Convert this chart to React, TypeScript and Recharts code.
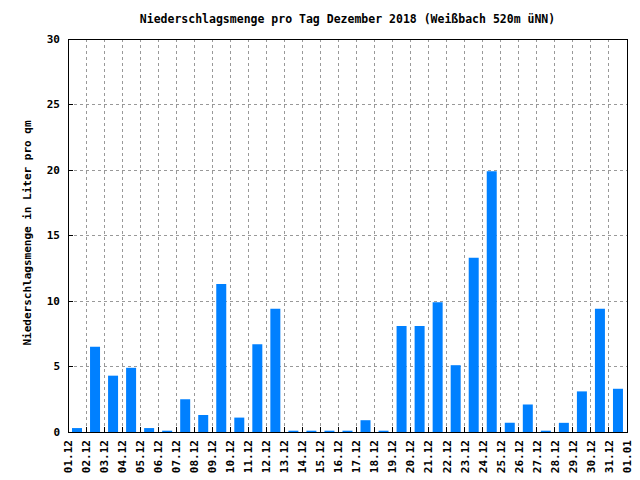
import React from "react";
import { BarChart, Bar, XAxis, YAxis, CartesianGrid, ReferenceArea } from "recharts";

// Niederschlag Dezember 2018, Liter pro qm
const days = [
  "01.12", "02.12", "03.12", "04.12", "05.12", "06.12", "07.12", "08.12", "09.12", "10.12",
  "11.12", "12.12", "13.12", "14.12", "15.12", "16.12", "17.12", "18.12", "19.12", "20.12",
  "21.12", "22.12", "23.12", "24.12", "25.12", "26.12", "27.12", "28.12", "29.12", "30.12", "31.12",
];
const tickLabels = [...days, "01.01"];
const rain = [
  0.3, 6.5, 4.3, 4.9, 0.3, 0.1, 2.5, 1.3, 11.3, 1.1,
  6.7, 9.4, 0.1, 0.1, 0.1, 0.1, 0.9, 0.1, 8.1, 8.1,
  9.9, 5.1, 13.3, 19.9, 0.7, 2.1, 0.1, 0.7, 3.1, 9.4, 3.3,
];
const yTicks = [0, 5, 10, 15, 20, 25, 30];

const TITLE = "Niederschlagsmenge pro Tag Dezember 2018 (Weißbach 520m üNN)";
const Y_LABEL = "Niederschlagsmenge in Liter pro qm";

const FONT = "'DejaVu Sans Mono', 'Liberation Mono', monospace";

// bars sit in the middle of each day, ticks at midnight
const data = rain.map((v, i) => ({ pos: i + 0.5, day: days[i], v }));
const xTicks = tickLabels.map((_, i) => i);

function BottomTick(props: any) {
  const { x, y, payload } = props;
  const ty = y + 8;
  return (
    <g>
      <line x1={x} y1={y} x2={x} y2={y - 5} stroke="#000" shapeRendering="crispEdges" />
      <text
        x={x}
        y={ty}
        dy="0.35em"
        transform={`rotate(-90 ${x} ${ty})`}
        textAnchor="end"
        fontFamily={FONT}
        fontWeight="bold"
        fontSize={11}
        fill="#000"
      >
        {tickLabels[payload.value]}
      </text>
    </g>
  );
}

function LeftTick(props: any) {
  const { x, y, payload } = props;
  return (
    <g>
      <line x1={x} y1={y} x2={x + 5} y2={y} stroke="#000" shapeRendering="crispEdges" />
      <text
        x={x - 8}
        y={y}
        dy="0.35em"
        textAnchor="end"
        fontFamily={FONT}
        fontWeight="bold"
        fontSize={11}
        fill="#000"
      >
        {payload.value}
      </text>
    </g>
  );
}

function YLabel() {
  const cx = 27;
  const cy = 233;
  return (
    <text
      x={cx}
      y={cy}
      dy="0.35em"
      transform={`rotate(-90 ${cx} ${cy})`}
      textAnchor="middle"
      fontFamily={FONT}
      fontWeight="bold"
      fontSize={11}
      fill="#000"
    >
      {Y_LABEL}
    </text>
  );
}

export default function App() {
  return (
    <div style={{ position: "absolute", left: 0, top: 0, width: 640, height: 480, background: "#fff" }}>
      <div
        style={{
          position: "absolute",
          left: 0,
          top: 12,
          width: 695,
          textAlign: "center",
          fontFamily: FONT,
          fontWeight: "bold",
          fontSize: 11.5,
          lineHeight: "14px",
          color: "#000",
          whiteSpace: "nowrap",
        }}
      >
        {TITLE}
      </div>
      <BarChart width={640} height={480} data={data} margin={{ top: 39, right: 13, left: 0, bottom: 0 }}>
        <CartesianGrid stroke="#999" strokeDasharray="3 3" shapeRendering="crispEdges" />
        <XAxis
          dataKey="pos"
          type="number"
          domain={[0, 31]}
          ticks={xTicks}
          interval={0}
          height={48}
          axisLine={false}
          tickLine={false}
          tickSize={0}
          tickMargin={0}
          tick={BottomTick}
          allowDataOverflow
        />
        <XAxis
          xAxisId="top"
          orientation="top"
          type="number"
          domain={[0, 31]}
          ticks={xTicks}
          interval={0}
          height={0}
          mirror
          axisLine={false}
          tickSize={5}
          tickLine={{ stroke: "#000", shapeRendering: "crispEdges" }}
          tickFormatter={() => ""}
          allowDataOverflow
        />
        <YAxis
          domain={[0, 30]}
          ticks={yTicks}
          interval={0}
          width={68}
          axisLine={false}
          tickLine={false}
          tickSize={0}
          tickMargin={0}
          tick={LeftTick}
          label={<YLabel />}
          allowDataOverflow
        />
        <YAxis
          yAxisId="right"
          orientation="right"
          domain={[0, 30]}
          ticks={yTicks}
          interval={0}
          width={0}
          mirror
          axisLine={false}
          tickSize={5}
          tickLine={{ stroke: "#000", shapeRendering: "crispEdges" }}
          tickFormatter={() => ""}
          allowDataOverflow
        />
        <Bar dataKey="v" fill="#0080ff" barSize={10} isAnimationActive={false} />
        <ReferenceArea
          x1={0}
          x2={31}
          y1={0}
          y2={30}
          fill="none"
          stroke="#000"
          strokeWidth={1}
          shapeRendering="crispEdges"
          ifOverflow="visible"
        />
      </BarChart>
    </div>
  );
}
